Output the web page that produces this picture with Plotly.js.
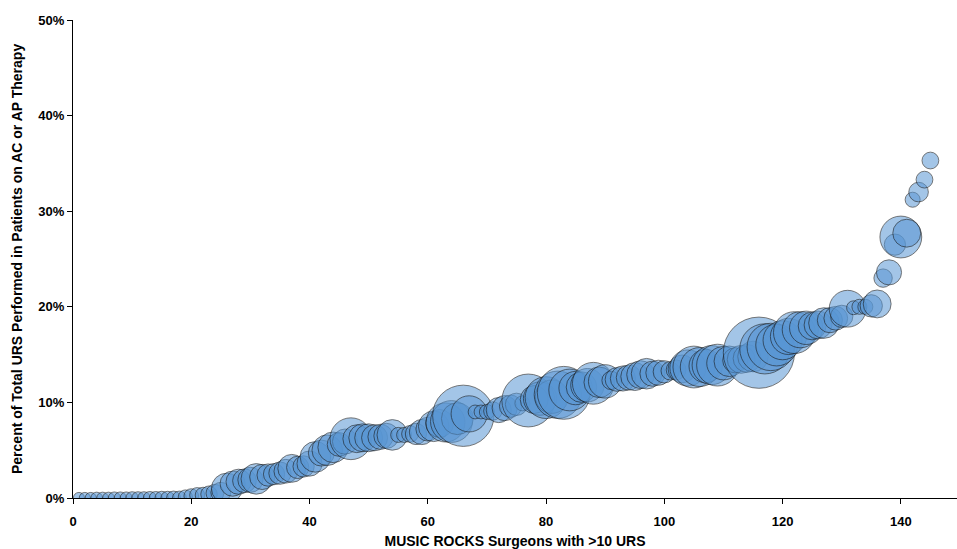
<!DOCTYPE html>
<html>
<head>
<meta charset="utf-8">
<script src="https://cdn.plot.ly/plotly-3.0.1.min.js"></script>
<style>html,body{margin:0;padding:0;background:#fff;}#chart{width:957px;height:549px;}</style>
</head>
<body>
<div id="chart"></div>
<script>
// Surgeon rank (x), percent of URS on AC/AP therapy (y, %), number of URS (bubble size)
const surgeonRank = [];
for (let i = 1; i <= 145; i++) surgeonRank.push(i);

const pctOnTherapy = [
  0,0,0,0,0,0,0,0,0,0,
  0,0,0,0,0,0,0,0,0.1,0.2,
  0.3,0.3,0.4,0.5,0.6,1.0,1.5,1.7,1.8,1.9,
  2.0,2.2,2.4,2.5,2.6,2.8,3.1,3.2,3.3,3.6,
  4.3,4.7,5.0,5.3,5.6,5.9,6.2,6.2,6.3,6.3,
  6.3,6.4,6.5,6.6,6.6,6.6,6.7,6.7,6.9,7.2,
  7.5,7.8,7.9,8.0,8.3,8.6,8.8,9.0,9.0,9.0,
  9.1,9.2,9.4,9.6,9.8,9.9,10.2,10.3,10.4,10.5,
  10.6,10.8,11.0,11.3,11.5,11.6,11.8,12.0,12.1,12.2,
  12.3,12.4,12.5,12.6,12.7,12.9,13.0,13.0,13.1,13.2,
  13.3,13.4,13.5,13.6,13.7,13.7,13.8,13.9,13.9,14.1,
  14.3,14.4,14.5,14.6,14.8,15.2,15.6,15.8,16.0,16.5,
  16.9,17.3,17.6,17.8,18.0,18.1,18.3,18.6,18.8,19.0,
  19.8,19.9,20.0,20.0,20.1,20.3,23.0,23.6,26.5,27.3,
  27.7,31.2,32.0,33.3,35.3
];

const totalURS = [
  11,11,11,12,12,12,13,13,13,14,
  14,14,15,15,16,16,17,17,18,19,
  20,22,24,28,35,83,56,56,50,56,
  83,56,44,40,44,50,69,44,40,56,
  83,60,83,83,50,56,155,69,69,69,
  60,56,56,83,20,20,25,40,56,50,
  83,69,135,155,90,333,116,17,17,20,
  30,56,56,44,44,20,248,69,99,155,
  99,199,248,155,99,83,99,155,83,99,
  30,50,56,56,69,69,83,56,56,44,
  30,35,69,116,155,135,99,135,155,99,
  83,56,69,69,83,450,223,199,155,135,
  116,155,116,99,69,69,83,56,50,44,
  120,17,20,20,44,69,30,56,40,155,
  69,20,34,25,25
];

const yTickVals = [0, 10, 20, 30, 40, 50];
const yTickText = ['0%', '10%', '20%', '30%', '40%', '50%'];
const xTickVals = [0, 20, 40, 60, 80, 100, 120, 140];
const xTitle = 'MUSIC ROCKS Surgeons with >10 URS';
const yTitle = 'Percent of Total URS Performed in Patients on AC or AP Therapy';

const TITLE_FONT = "'Liberation Sans Narrow', 'Arial Narrow', 'Liberation Sans', sans-serif";
const TICK_FONT = "'Liberation Sans', Arial, sans-serif";

const trace = {
  type: 'scatter',
  mode: 'markers',
  x: surgeonRank,
  y: pctOnTherapy,
  marker: {
    size: totalURS,
    sizemode: 'area',
    sizeref: 11 / 62,
    color: 'rgba(88,150,212,0.78)',
    line: { color: 'rgba(20,20,20,0.8)', width: 1 }
  },
  hoverinfo: 'x+y'
};

const layout = {
  width: 957,
  height: 549,
  margin: { l: 73, r: 0, t: 20, b: 51 },
  paper_bgcolor: '#ffffff',
  plot_bgcolor: '#ffffff',
  showlegend: false,
  font: { family: TITLE_FONT, color: '#000' },
  xaxis: {
    range: [0, 149.5],
    tickvals: xTickVals,
    ticks: 'outside',
    ticklen: 5,
    tickcolor: '#000',
    ticklabelstandoff: 6,
    showline: true,
    linecolor: '#000',
    linewidth: 1,
    showgrid: false,
    zeroline: false,
    tickfont: { family: TICK_FONT, size: 13, weight: 'bold', color: '#000' },
    title: { text: xTitle, font: { family: TITLE_FONT, size: 14, weight: 'bold', color: '#000' }, standoff: 10 }
  },
  yaxis: {
    range: [0, 50],
    tickvals: yTickVals,
    ticktext: yTickText,
    ticks: 'outside',
    ticklen: 5,
    tickcolor: '#000',
    showline: true,
    linecolor: '#000',
    linewidth: 1,
    showgrid: false,
    zeroline: false,
    tickfont: { family: TICK_FONT, size: 13, weight: 'bold', color: '#000' }
  },
  annotations: [{
    text: yTitle,
    xref: 'paper', yref: 'paper',
    x: (17 - 73) / 884, y: 0.5,
    xanchor: 'center', yanchor: 'middle',
    textangle: -90,
    showarrow: false,
    font: { family: TITLE_FONT, size: 14, weight: 'bold', color: '#000' }
  }]
};

Plotly.newPlot('chart', [trace], layout, { displayModeBar: false, staticPlot: true });
</script>
</body>
</html>
